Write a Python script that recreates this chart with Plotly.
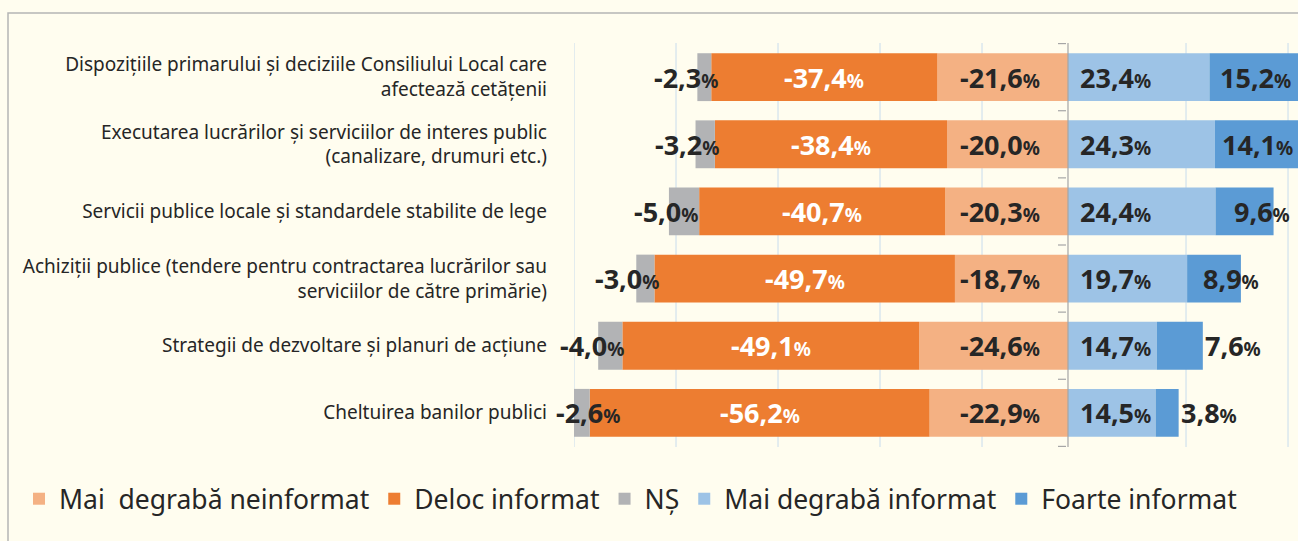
import plotly.graph_objects as go

# categories (top to bottom)
categories = [
    "Dispozițiile primarului și deciziile Consiliului Local care<br>afectează cetățenii",
    "Executarea lucrărilor și serviciilor de interes public<br>(canalizare, drumuri etc.)",
    "Servicii publice locale și standardele stabilite de lege",
    "Achiziții publice (tendere pentru contractarea lucrărilor sau<br>serviciilor de către primărie)",
    "Strategii de dezvoltare și planuri de acțiune",
    "Cheltuirea banilor publici",
]

# series values (%)
mai_degraba_neinformat = [-21.6, -20.0, -20.3, -18.7, -24.6, -22.9]
deloc_informat = [-37.4, -38.4, -40.7, -49.7, -49.1, -56.2]
ns = [-2.3, -3.2, -5.0, -3.0, -4.0, -2.6]
mai_degraba_informat = [23.4, 24.3, 24.4, 19.7, 14.7, 14.5]
foarte_informat = [15.2, 14.1, 9.6, 8.9, 7.6, 3.8]

series_names = ["Mai\u00a0\u00a0degrabă neinformat", "Deloc informat", "NȘ",
                "Mai degrabă informat", "Foarte informat"]
series_values = [mai_degraba_neinformat, deloc_informat, ns,
                 mai_degraba_informat, foarte_informat]
colors = ["#f4b183", "#ed7d31", "#b2b3b5", "#9dc3e6", "#5b9bd5"]

bg = "#fffdef"
txt_color = "#262626"
font = "Noto Sans"

W, H = 1298, 541
ml, mr, mt, mb = 574, 0, 43, 94
plot_w = W - ml - mr
plot_h = H - mt - mb
x_min, x_max = -81.7, 38.04
ppu = plot_w / (x_max - x_min)  # pixels per unit


def px_x(px):
    # figure pixel -> paper x
    return (px - ml) / plot_w


def px_y(py):
    # figure pixel -> paper y
    return (H - mb - py) / plot_h


def val_px(v):
    # data value -> figure pixel
    return ml + (v - x_min) * ppu


def fmt(v):
    s = "{:.1f}".format(v).replace(".", ",")
    return "<b>" + s + "</b><b><span style='font-size:19px'>%</span></b>"


fig = go.Figure()
for name, vals, col in zip(series_names, series_values, colors):
    fig.add_trace(go.Bar(
        y=categories,
        x=vals,
        name=name,
        orientation='h',
        marker=dict(color=col, line=dict(width=0)),
        hoverinfo='x+name',
    ))

# value labels
annotations = []
for i, cat in enumerate(categories):
    lo, de, n = mai_degraba_neinformat[i], deloc_informat[i], ns[i]
    mi, fo = mai_degraba_informat[i], foarte_informat[i]
    base = dict(y=cat, xref='x', yref='y', showarrow=False,
                font=dict(family=font, size=27, color=txt_color))
    annotations.append(dict(base, x=0, text=fmt(lo), xanchor='right', xshift=-26))
    annotations.append(dict(base, x=lo + de / 2, text=fmt(de), xanchor='center',
                            font=dict(family=font, size=27, color='white')))
    # NȘ label: a bit left of the grey segment, kept clear of the category text
    ns_mid = lo + de + n / 2
    shift = max(-18, 588 - val_px(ns_mid))
    annotations.append(dict(base, x=ns_mid, text=fmt(n), xanchor='center', xshift=shift))
    annotations.append(dict(base, x=0, text=fmt(mi), xanchor='left', xshift=10))
    seg = fo * ppu
    if seg >= 60:
        annotations.append(dict(base, x=mi + fo / 2, text=fmt(fo), xanchor='center'))
    elif seg >= 50:
        annotations.append(dict(base, x=mi + fo / 2, text=fmt(fo), xanchor='center', xshift=17))
    else:
        annotations.append(dict(base, x=mi + fo, text=fmt(fo), xanchor='left', xshift=0))

shapes = []
# vertical gridlines
grid_step = 16.87
for k in range(8):
    if k == 5:
        continue
    gx = x_min + k * grid_step
    shapes.append(dict(type='line', xref='x', yref='paper', x0=gx, x1=gx, y0=0, y1=1,
                       line=dict(color='#c8dced', width=1), layer='below'))
# zero axis line
shapes.append(dict(type='line', xref='x', yref='paper', x0=0, x1=0, y0=0, y1=1,
                   line=dict(color='#a6a6a6', width=1.2), layer='above'))
# small category tick marks left of the axis
for k in range(len(categories) + 1):
    shapes.append(dict(type='line', xref='x', yref='y', x0=-10 / ppu, x1=-2 / ppu,
                       y0=k - 0.5, y1=k - 0.5,
                       line=dict(color='#a6a6a6', width=1.2), layer='above'))
# outer frame
shapes.append(dict(type='rect', xref='paper', yref='paper',
                   x0=px_x(8), x1=px_x(W + 20), y0=px_y(H + 20), y1=px_y(13),
                   line=dict(color='#b5b5b5', width=1.5), fillcolor='rgba(0,0,0,0)',
                   layer='below'))

fig.update_layout(
    width=W, height=H,
    barmode='relative',
    bargap=0.287,
    paper_bgcolor=bg,
    plot_bgcolor=bg,
    margin=dict(l=ml, r=mr, t=mt, b=mb, autoexpand=False),
    font=dict(family=font, color=txt_color),
    xaxis=dict(range=[x_min, x_max], showgrid=False, zeroline=False,
               showticklabels=False, ticks='', fixedrange=True),
    yaxis=dict(categoryorder='array', categoryarray=categories, autorange='reversed',
               showgrid=False, zeroline=False, ticks='', ticklabelstandoff=26,
               tickfont=dict(family=font, size=19, color=txt_color)),
    legend=dict(orientation='h', x=px_x(19), xanchor='left',
                y=px_y(499), yanchor='middle', traceorder='normal',
                bgcolor='rgba(0,0,0,0)',
                font=dict(family=font, size=26.5, color=txt_color)),
    annotations=annotations,
    shapes=shapes,
)

fig.write_html("out.html", config={'displayModeBar': False},
               post_script="document.body.style.margin='0';document.body.style.overflow='hidden';")
